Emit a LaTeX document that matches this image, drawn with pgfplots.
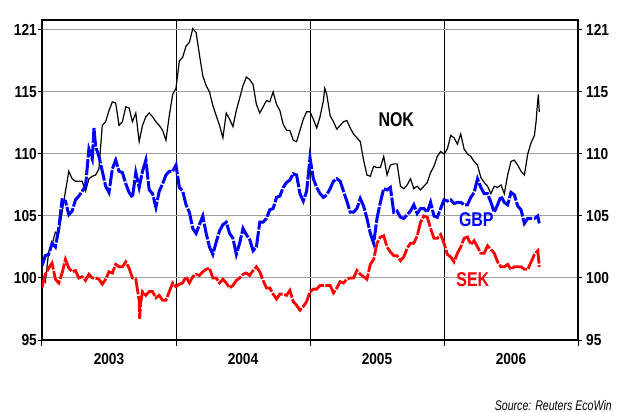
\documentclass[border=0pt]{standalone}
\usepackage{fontspec}
\setmainfont{Liberation Sans}
\newfontfamily\tickfont[FakeStretch=0.86]{Liberation Sans Bold}
\newfontfamily\labfont[FakeStretch=0.8]{Liberation Sans Bold}
\newfontfamily\srcfont[FakeStretch=0.76]{Liberation Sans Italic}
\usepackage{pgfplots}
\pgfplotsset{compat=1.18}
\usepackage{pgfplotstable}

\pgfplotstableread{
x y
2003.000 100.2
2003.025 99.7
2003.050 102.1
2003.075 102.7
2003.100 103.7
2003.125 103.6
2003.150 105.3
2003.175 107.0
2003.200 108.6
2003.225 108.0
2003.250 107.8
2003.275 107.8
2003.300 107.8
2003.325 107.0
2003.350 108.0
2003.375 108.2
2003.400 108.3
2003.425 108.8
2003.450 112.3
2003.475 112.6
2003.500 113.5
2003.525 114.2
2003.550 114.1
2003.575 112.3
2003.600 112.6
2003.625 113.8
2003.650 113.7
2003.675 112.6
2003.700 113.3
2003.725 111.0
2003.750 112.3
2003.775 113.0
2003.800 113.3
2003.825 113.0
2003.850 112.6
2003.875 112.3
2003.900 111.9
2003.925 111.1
2003.950 113.1
2003.975 114.8
2004.000 115.3
2004.025 117.5
2004.050 117.8
2004.075 118.7
2004.100 119.0
2004.125 120.1
2004.150 119.8
2004.175 118.0
2004.200 116.3
2004.225 115.5
2004.250 115.0
2004.275 113.9
2004.300 113.1
2004.325 112.3
2004.350 111.3
2004.375 113.3
2004.400 112.8
2004.425 112.2
2004.450 113.5
2004.475 114.5
2004.500 115.5
2004.525 116.2
2004.550 116.0
2004.575 115.6
2004.600 114.0
2004.625 113.3
2004.650 113.8
2004.675 114.3
2004.700 114.2
2004.725 115.0
2004.750 114.0
2004.775 113.5
2004.800 112.4
2004.825 111.9
2004.850 111.9
2004.875 111.1
2004.900 111.0
2004.925 111.9
2004.950 112.8
2004.975 113.4
2005.000 113.4
2005.025 112.8
2005.050 112.1
2005.075 113.0
2005.100 114.3
2005.110 115.3
2005.125 114.8
2005.150 113.1
2005.175 112.6
2005.200 112.0
2005.225 112.3
2005.250 112.6
2005.275 112.7
2005.300 112.1
2005.325 111.6
2005.350 111.3
2005.375 111.0
2005.400 109.5
2005.425 108.3
2005.450 108.2
2005.475 109.0
2005.500 108.9
2005.525 108.9
2005.550 109.8
2005.575 108.3
2005.600 109.1
2005.625 109.2
2005.650 109.2
2005.675 107.4
2005.700 107.2
2005.725 107.5
2005.750 108.0
2005.775 107.2
2005.800 107.4
2005.825 107.1
2005.850 107.4
2005.875 107.7
2005.900 108.5
2005.925 109.0
2005.950 109.8
2005.975 110.2
2006.000 110.0
2006.025 110.4
2006.050 111.5
2006.075 111.3
2006.100 110.8
2006.125 111.6
2006.150 110.4
2006.175 110.0
2006.200 109.8
2006.225 109.4
2006.250 109.1
2006.275 108.1
2006.300 107.7
2006.325 107.4
2006.350 106.8
2006.375 107.4
2006.400 107.3
2006.425 107.5
2006.450 106.8
2006.475 108.3
2006.500 109.4
2006.525 109.5
2006.550 109.1
2006.575 108.6
2006.600 108.3
2006.625 110.0
2006.650 110.9
2006.675 111.5
2006.687 112.6
2006.697 114.0
2006.704 114.8
2006.711 113.4
}\nok

\pgfplotstableread{
x y
2003.000 101.0
2003.025 101.8
2003.050 101.9
2003.075 102.8
2003.100 102.5
2003.125 104.0
2003.150 106.3
2003.175 106.2
2003.200 105.1
2003.225 105.4
2003.250 106.3
2003.275 106.6
2003.300 107.0
2003.325 107.4
2003.350 110.4
2003.375 109.6
2003.388 112.1
2003.400 110.6
2003.425 109.8
2003.450 108.6
2003.475 107.4
2003.500 106.9
2003.525 108.8
2003.550 109.5
2003.575 108.6
2003.600 108.5
2003.625 107.6
2003.650 106.9
2003.675 106.5
2003.700 108.5
2003.725 107.3
2003.750 108.6
2003.775 109.5
2003.800 107.1
2003.825 106.8
2003.850 105.7
2003.875 107.0
2003.900 107.6
2003.925 108.3
2003.950 108.6
2003.975 108.6
2004.000 109.1
2004.025 107.3
2004.050 107.0
2004.075 105.9
2004.100 105.3
2004.125 104.0
2004.150 103.6
2004.175 104.3
2004.200 105.0
2004.225 103.6
2004.250 102.5
2004.275 101.9
2004.300 102.9
2004.325 103.8
2004.350 104.3
2004.375 104.5
2004.400 103.6
2004.425 103.2
2004.450 101.9
2004.475 102.8
2004.500 104.0
2004.525 103.5
2004.550 103.1
2004.575 102.2
2004.600 102.5
2004.625 104.5
2004.650 104.5
2004.675 104.8
2004.700 105.5
2004.725 105.6
2004.750 106.5
2004.775 106.6
2004.800 107.3
2004.825 107.7
2004.850 107.9
2004.875 108.4
2004.900 108.3
2004.925 106.8
2004.950 106.2
2004.975 107.0
2005.000 109.7
2005.025 108.0
2005.050 107.3
2005.075 106.8
2005.100 106.5
2005.125 106.7
2005.150 107.2
2005.175 107.8
2005.200 108.0
2005.225 107.8
2005.250 107.0
2005.275 106.2
2005.300 105.3
2005.325 105.3
2005.350 105.6
2005.375 106.4
2005.400 105.8
2005.425 104.8
2005.450 103.6
2005.475 102.8
2005.500 104.8
2005.525 106.1
2005.550 107.2
2005.575 107.1
2005.600 107.3
2005.625 105.3
2005.650 105.4
2005.675 104.9
2005.700 104.8
2005.725 105.1
2005.750 105.4
2005.775 105.9
2005.800 105.2
2005.825 105.6
2005.850 105.6
2005.875 105.3
2005.900 106.1
2005.925 105.0
2005.950 104.9
2005.975 105.6
2006.000 106.3
2006.025 106.2
2006.050 106.3
2006.075 106.0
2006.100 106.1
2006.125 106.1
2006.150 105.9
2006.175 105.9
2006.200 106.5
2006.225 106.9
2006.250 108.0
2006.275 107.3
2006.300 106.8
2006.325 106.8
2006.350 106.1
2006.375 105.3
2006.400 105.9
2006.425 106.6
2006.450 106.1
2006.475 105.9
2006.500 106.9
2006.525 106.7
2006.550 105.8
2006.575 105.5
2006.600 104.4
2006.625 104.8
2006.650 104.8
2006.675 104.8
2006.700 105.0
2006.711 104.4
}\gbp

\pgfplotstableread{
x y
2003.000 99.2
2003.012 99.8
2003.025 100.3
2003.050 100.8
2003.075 101.2
2003.100 99.9
2003.125 99.6
2003.150 100.4
2003.175 101.5
2003.200 100.8
2003.225 100.5
2003.250 100.6
2003.275 100.0
2003.300 100.1
2003.325 99.8
2003.350 100.3
2003.375 100.0
2003.400 100.0
2003.425 99.9
2003.450 99.5
2003.475 99.9
2003.500 100.5
2003.525 100.4
2003.550 101.1
2003.575 100.9
2003.600 100.9
2003.625 101.3
2003.650 100.8
2003.675 100.0
2003.700 99.9
2003.725 98.2
2003.729 96.7
2003.735 97.9
2003.750 98.9
2003.775 98.6
2003.800 98.9
2003.825 98.9
2003.850 98.4
2003.875 98.6
2003.900 98.2
2003.925 98.2
2003.950 98.9
2003.975 99.6
2004.000 99.3
2004.025 99.5
2004.050 99.6
2004.075 100.1
2004.100 99.6
2004.125 100.1
2004.150 100.3
2004.175 100.2
2004.200 100.5
2004.225 100.7
2004.250 100.8
2004.275 100.0
2004.300 100.0
2004.325 99.6
2004.350 99.9
2004.375 99.6
2004.400 99.2
2004.425 99.4
2004.450 99.8
2004.475 100.0
2004.500 100.3
2004.525 100.4
2004.550 100.2
2004.575 100.6
2004.600 100.9
2004.625 100.5
2004.650 99.8
2004.675 99.2
2004.700 99.2
2004.725 98.7
2004.750 98.3
2004.775 98.7
2004.800 98.7
2004.825 98.6
2004.850 99.0
2004.875 98.1
2004.900 97.8
2004.925 97.4
2004.950 97.7
2004.975 98.1
2005.000 98.9
2005.025 99.1
2005.050 99.1
2005.075 99.4
2005.100 99.4
2005.125 99.4
2005.150 99.4
2005.175 98.8
2005.200 99.2
2005.225 99.7
2005.250 99.6
2005.275 99.9
2005.300 100.0
2005.325 100.0
2005.350 100.6
2005.375 100.3
2005.400 100.1
2005.425 99.9
2005.450 101.1
2005.475 101.5
2005.500 102.8
2005.525 103.3
2005.550 103.4
2005.575 102.5
2005.600 102.1
2005.625 101.8
2005.650 101.8
2005.675 101.4
2005.700 101.7
2005.725 102.4
2005.750 102.8
2005.775 102.8
2005.800 103.4
2005.825 104.5
2005.850 105.0
2005.875 104.9
2005.900 104.0
2005.925 103.2
2005.950 103.2
2005.975 103.5
2006.000 102.8
2006.025 101.9
2006.050 101.7
2006.075 101.3
2006.100 102.0
2006.125 102.5
2006.150 103.2
2006.175 103.3
2006.200 102.7
2006.225 103.0
2006.250 102.5
2006.275 102.0
2006.300 102.0
2006.325 102.6
2006.350 102.3
2006.375 102.0
2006.400 101.3
2006.425 100.9
2006.450 100.9
2006.475 101.1
2006.500 100.7
2006.525 100.9
2006.550 100.9
2006.575 100.9
2006.600 100.7
2006.625 100.7
2006.650 101.3
2006.675 101.9
2006.700 102.2
2006.711 100.9
}\sek

\definecolor{gridgray}{RGB}{160,160,160}
\newcommand{\tlfont}{\tickfont\fontsize{16}{16}\selectfont}

\begin{document}
\begin{tikzpicture}
\path[use as bounding box] (-42bp,-72bp) rectangle (587bp,340bp);
\begin{axis}[
  scale only axis, width=536bp, height=320bp,
  xmin=2003, xmax=2007, ymin=95, ymax=120.8,
  axis line style={line width=2bp},
  tick align=outside,
  xtick={2003.5,2004.5,2005.5,2006.5},
  xticklabels={\mbox{2003},\mbox{2004},\mbox{2005},\mbox{2006}},
  major x tick style={draw=none},
  minor xtick={2003,2004,2005,2006,2007},
  minor tick length=6bp,
  minor x tick style={line width=1bp, black},
  xminorgrids=true,
  minor x grid style={black, line width=0.8bp},
  xtick pos=bottom,
  ytick={95,100,105,110,115,120},
  yticklabels={\mbox{95},\mbox{100},\mbox{105},\mbox{110},\mbox{115},\mbox{121}},
  ytick pos=left,
  major tick length=4bp,
  major y tick style={line width=1bp, black},
  ymajorgrids=true,
  major y grid style={gridgray, line width=1bp},
  xticklabel style={font=\tlfont, yshift=-6bp},
  yticklabel style={font=\tlfont, inner xsep=1bp},
]
\addplot[black, line width=1.2bp] table[x=x,y=y] {\nok};
\addplot[blue, line width=3bp, dash pattern=on 16bp off 1.6bp] table[x=x,y=y] {\gbp};
\addplot[red, line width=2.8bp, dash pattern=on 16bp off 1.6bp] table[x=x,y=y] {\sek};
\node[font=\labfont\fontsize{20}{20}\selectfont, text=black] at (axis cs:2005.644,112.78) {NOK};
\node[font=\labfont\fontsize{20}{20}\selectfont, text=blue] at (axis cs:2006.241,104.72) {GBP};
\node[font=\labfont\fontsize{20}{20}\selectfont, text=red] at (axis cs:2006.215,99.84) {SEK};
\end{axis}
\begin{axis}[
  scale only axis, width=536bp, height=320bp,
  xmin=2003, xmax=2007, ymin=95, ymax=120.8,
  axis x line=none, axis y line*=right,
  y axis line style={-, line width=2bp},
  tick align=outside,
  ytick={95,100,105,110,115,120},
  yticklabels={\mbox{95},\mbox{100},\mbox{105},\mbox{110},\mbox{115},\mbox{121}},
  major tick length=4bp,
  major y tick style={line width=1bp, black},
  yticklabel style={font=\tlfont, inner xsep=4bp},
]
\end{axis}
\node[anchor=base east, font=\srcfont\fontsize{14}{14}\selectfont, inner sep=0pt] at (570bp,-70bp) {Source: Reuters EcoWin};
\end{tikzpicture}
\end{document}
